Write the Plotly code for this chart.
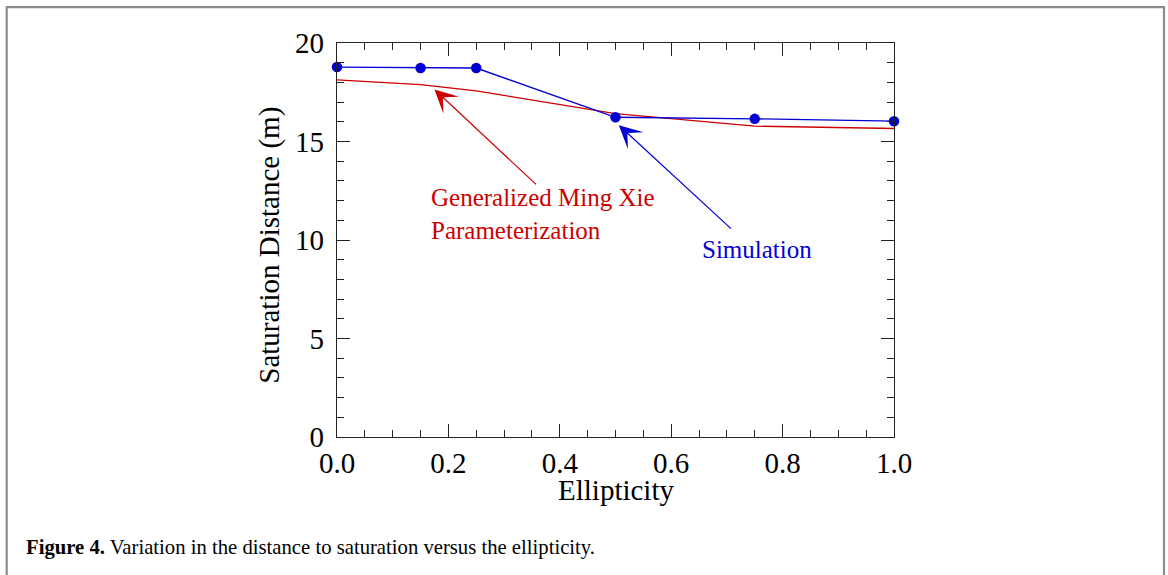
import plotly.graph_objects as go

# Ellipticity values at which the saturation distance was evaluated
ellipticity = [0.0, 0.15, 0.25, 0.5, 0.75, 1.0]
# Saturation distance from simulation (m)
sim_distance = [18.78, 18.73, 18.73, 16.23, 16.15, 16.03]
# Saturation distance from generalized Ming Xie parameterization (m)
mx_distance = [18.13, 17.89, 17.57, 16.42, 15.78, 15.66]

# Arrow annotations: (tip x, tip y, tail x, tail y) in data units
mx_arrow = [0.175, 17.64, 0.36, 12.75]
sim_arrow = [0.506, 15.83, 0.71, 10.51]

FONT = "Liberation Serif, Times New Roman, serif"
RED = "#cc0000"
BLUE = "#0000d4"
AXIS = "#222222"

fig = go.Figure()

fig.add_trace(go.Scatter(
    x=ellipticity, y=mx_distance, mode="lines",
    line=dict(color=RED, width=1.3), cliponaxis=False, showlegend=False,
))
fig.add_trace(go.Scatter(
    x=ellipticity, y=sim_distance, mode="lines+markers",
    line=dict(color=BLUE, width=1.3),
    marker=dict(color=BLUE, size=10.5), cliponaxis=False, showlegend=False,
))

axis_common = dict(
    showgrid=False, zeroline=False, showline=True, linecolor=AXIS, linewidth=1.3,
    mirror="allticks", ticks="inside", ticklen=13, tickwidth=1.3, tickcolor=AXIS,
    tickfont=dict(family=FONT, size=29, color="black"),
)

fig.update_xaxes(
    range=[0, 1], dtick=0.2, tickformat=".1f",
    minor=dict(dtick=0.05, ticklen=7, tickwidth=1.3, tickcolor=AXIS, ticks="inside"),
    **axis_common,
)
fig.update_yaxes(
    range=[0, 20], dtick=5,
    minor=dict(dtick=1, ticklen=7, tickwidth=1.3, tickcolor=AXIS, ticks="inside"),
    ticklabelstandoff=6,
    **axis_common,
)

annotations = [
    dict(x=mx_arrow[0], y=mx_arrow[1], ax=mx_arrow[2], ay=mx_arrow[3],
         xref="x", yref="y", axref="x", ayref="y", text="", showarrow=True,
         arrowhead=3, arrowsize=3.2, arrowwidth=1.2, arrowcolor=RED, standoff=0),
    dict(x=sim_arrow[0], y=sim_arrow[1], ax=sim_arrow[2], ay=sim_arrow[3],
         xref="x", yref="y", axref="x", ayref="y", text="", showarrow=True,
         arrowhead=3, arrowsize=3.2, arrowwidth=1.2, arrowcolor=BLUE, standoff=0),
    dict(x=0.166, y=11.3, xref="x", yref="y", xanchor="left", yanchor="middle",
         align="left", showarrow=False,
         text="Generalized Ming Xie<br>Parameterization",
         font=dict(family=FONT, size=25, color=RED)),
    dict(x=0.651, y=9.53, xref="x", yref="y", xanchor="left", yanchor="middle",
         showarrow=False, text="Simulation",
         font=dict(family=FONT, size=25, color=BLUE)),
    # axis titles
    dict(x=0.5, y=-0.135, xref="paper", yref="paper", xanchor="center", yanchor="middle",
         showarrow=False, text="Ellipticity",
         font=dict(family=FONT, size=29, color="black")),
    dict(x=-0.121, y=0.487, xref="paper", yref="paper", xanchor="center", yanchor="middle",
         showarrow=False, text="Saturation Distance (m)", textangle=-90,
         font=dict(family=FONT, size=29, color="black")),
    # figure caption
    dict(x=-0.562, y=-0.28, xref="paper", yref="paper", xanchor="left", yanchor="middle",
         showarrow=False,
         text="<b>Figure 4.</b> Variation in the distance to saturation versus the ellipticity.",
         font=dict(family=FONT, size=20.7, color="black")),
]

# grey frame surrounding the figure and caption
shapes = [
    dict(type="path", xref="paper", yref="paper",
         path="M -0.593 -0.5 L -0.593 1.091 L 1.4847 1.091 L 1.4847 -0.5",
         line=dict(color="#8c8c8c", width=2.2)),
]

fig.update_layout(
    width=1168, height=575,
    margin=dict(l=337, r=274, t=43, b=138),
    paper_bgcolor="white", plot_bgcolor="white",
    annotations=annotations, shapes=shapes,
    font=dict(family=FONT),
)

fig.write_html("out.html")
